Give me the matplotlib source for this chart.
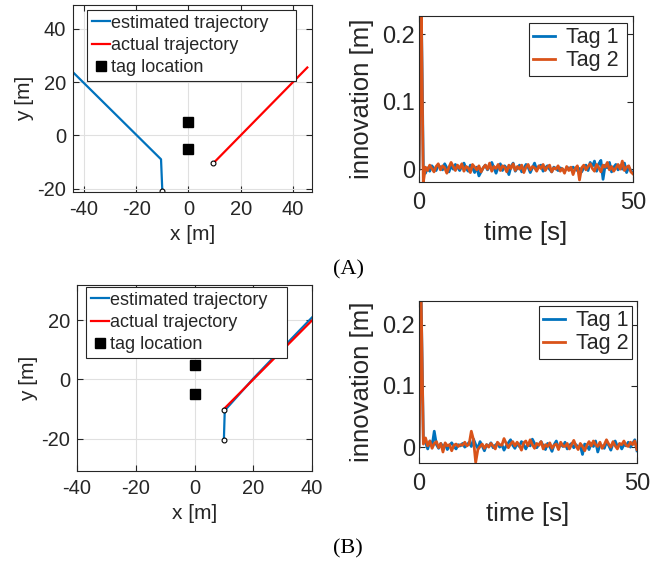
import numpy as np
import matplotlib
matplotlib.use("Agg")
import matplotlib.pyplot as plt

plt.rcParams["font.family"] = ["Liberation Sans", "DejaVu Sans"]
plt.rcParams["axes.unicode_minus"] = False

W, H = 668, 563
BLUE = "#0072BD"
ORANGE = "#D95319"
RED = "#FF0000"
AX_GRAY = "#262626"

# tag positions (shared by both scenarios)
TAG_X = [0, 0]
TAG_Y = [5, -5]

# scenario A trajectories
A_EST_X = [-45.0, -10.5, -10.0]
A_EST_Y = [24.5, -9.0, -21.0]
A_ACT_X = [9.5, 45.5]
A_ACT_Y = [-10.5, 25.5]
A_START_X = [-10.0, 9.5]
A_START_Y = [-21.0, -10.5]

# scenario B trajectories
B_EST_X = [10.0, 10.3, 20.0, 30.0, 40.0]
B_EST_Y = [-20.5, -10.5, 0.3, 10.7, 21.0]
B_ACT_X = [10.0, 40.0]
B_ACT_Y = [-10.0, 20.0]
B_START_X = [10.0, 10.0]
B_START_Y = [-20.5, -10.5]

# innovation sequences [m]
A_TAG1 = [0.000, 0.260, 0.004, -0.006, 0.002, -0.003, 0.005, 0.001, -0.002, 0.006,
          0.003, -0.001, 0.008, 0.002, -0.004, 0.005, 0.000, 0.007, 0.003, -0.002,
          0.004, 0.009, 0.001, -0.003, 0.006, 0.002, -0.005, 0.003, -0.010, -0.004,
          0.002, 0.006, -0.001, 0.004, 0.010, 0.002, -0.006, 0.003, 0.008, -0.002,
          0.005, 0.001, -0.008, 0.004, 0.009, -0.003, 0.002, 0.006, -0.004, 0.001,
          0.007, 0.003, -0.005, 0.002, 0.009, -0.001, 0.004, 0.006, -0.003, 0.002,
          0.005, 0.000, -0.004, 0.003, 0.001, -0.002, 0.002, 0.000, -0.003, 0.001,
          0.002, -0.001, 0.003, 0.000, -0.002, 0.001, -0.004, 0.002, 0.006, -0.002,
          0.010, 0.004, 0.012, -0.003, 0.008, 0.013, -0.015, 0.006, 0.002, 0.010,
          -0.004, 0.003, 0.007, -0.001, 0.005, 0.000, 0.009, -0.005, 0.003, -0.002,
          -0.006]
A_TAG2 = [0.000, 0.260, -0.020, 0.003, -0.002, 0.006, 0.001, -0.004, 0.004, 0.008,
          -0.001, 0.005, 0.002, -0.006, 0.003, 0.010, 0.004, -0.002, 0.006, 0.001,
          0.008, -0.003, 0.004, 0.002, -0.005, 0.007, 0.003, -0.001, 0.005, -0.004,
          0.002, 0.006, 0.000, 0.009, -0.003, 0.004, 0.001, 0.007, -0.002, 0.005,
          0.003, -0.004, 0.006, 0.001, 0.008, -0.002, 0.004, 0.000, 0.006, -0.005,
          0.003, 0.007, -0.001, 0.004, 0.002, -0.003, 0.005, 0.001, 0.007, -0.002,
          0.003, 0.006, -0.004, 0.002, 0.000, 0.005, -0.003, 0.001, -0.006, 0.004,
          -0.002, 0.003, -0.008, 0.001, 0.005, -0.016, 0.002, 0.006, -0.001, 0.004,
          0.008, 0.001, -0.003, 0.007, 0.002, -0.004, 0.006, 0.003, 0.010, -0.001,
          0.004, -0.003, 0.002, 0.007, 0.000, 0.012, -0.002, 0.003, 0.005, -0.004,
          -0.007]
B_TAG1 = [0.000, 0.240, 0.012, 0.008, -0.003, 0.010, 0.002, 0.026, 0.004, -0.002,
          0.006, 0.000, 0.005, -0.004, 0.003, 0.007, 0.001, -0.003, 0.004, 0.002,
          0.006, 0.000, 0.003, 0.008, 0.001, 0.013, 0.004, -0.002, 0.009, 0.002,
          -0.006, 0.004, 0.001, 0.007, -0.001, 0.003, 0.006, 0.000, 0.004, -0.005,
          0.002, 0.007, 0.012, 0.003, -0.002, 0.006, 0.001, 0.009, 0.004, -0.003,
          0.005, 0.002, 0.013, 0.006, -0.001, 0.004, 0.009, 0.002, -0.004, 0.006,
          0.001, -0.007, 0.004, 0.010, -0.002, 0.005, 0.001, 0.008, -0.003, 0.003,
          0.006, -0.001, 0.004, 0.000, 0.002, -0.012, 0.005, 0.003, -0.004, 0.006,
          0.001, 0.010, -0.008, 0.004, 0.002, -0.002, 0.008, 0.003, -0.005, 0.006,
          0.010, 0.001, 0.005, -0.003, 0.004, 0.002, 0.008, 0.000, 0.006, 0.012,
          -0.006]
B_TAG2 = [0.000, 0.240, 0.005, 0.015, 0.002, 0.010, -0.002, 0.006, 0.009, -0.001,
          0.006, -0.008, 0.007, 0.002, 0.004, -0.006, 0.003, 0.005, 0.001, 0.004,
          0.003, 0.008, 0.002, 0.005, 0.026, 0.012, -0.025, -0.004, 0.001, 0.005,
          -0.002, 0.004, 0.000, 0.006, 0.002, -0.003, 0.008, 0.004, 0.003, 0.014,
          0.006, -0.001, 0.005, 0.009, 0.002, 0.008, 0.003, -0.005, 0.007, 0.010,
          0.002, 0.012, 0.004, -0.002, 0.006, 0.003, 0.009, -0.003, 0.004, 0.001,
          0.007, -0.002, 0.003, 0.005, -0.004, 0.008, 0.002, 0.001, 0.006, -0.003,
          0.004, 0.011, 0.002, -0.004, 0.006, 0.001, -0.006, 0.003, 0.009, 0.002,
          0.010, 0.004, 0.001, 0.008, -0.002, 0.004, 0.012, 0.005, 0.000, 0.009,
          0.002, -0.003, 0.006, 0.004, 0.010, 0.003, 0.001, 0.008, 0.004, 0.010,
          -0.004]


def px_axes(fig, left, top, right, bottom):
    return fig.add_axes([left / W, 1 - bottom / H, (right - left) / W, (bottom - top) / H])


def px_box(left, top, right, bottom):
    return (left / W, 1 - bottom / H, (right - left) / W, (bottom - top) / H)


def style_axes(ax, size, xpad, ypad):
    for s in ax.spines.values():
        s.set_color(AX_GRAY)
        s.set_linewidth(0.8)
    ax.tick_params(direction="in", top=True, right=True, colors=AX_GRAY,
                   labelcolor=AX_GRAY, labelsize=size, length=4, width=0.8)
    ax.tick_params(axis="x", pad=xpad)
    ax.tick_params(axis="y", pad=ypad)


def style_legend(leg):
    leg.get_frame().set_linewidth(0.8)
    for t in leg.get_texts():
        t.set_color(AX_GRAY)


def traj_panel(ax, est_x, est_y, act_x, act_y, sx, sy, xlim, ylim, xticks, yticks, leg_box):
    ax.plot(est_x, est_y, color=BLUE, lw=1.6, label="estimated trajectory")
    ax.plot(act_x, act_y, color=RED, lw=1.6, label="actual trajectory")
    ax.plot(TAG_X, TAG_Y, "s", color="black", ms=7, label="tag location")
    ax.plot(sx, sy, "o", mfc="white", mec="black", ms=3.5, mew=0.8)
    ax.set_xlim(*xlim)
    ax.set_ylim(*ylim)
    ax.set_xticks(xticks)
    ax.set_yticks(yticks)
    ax.grid(True, color="#e0e0e0", lw=0.8)
    ax.set_axisbelow(True)
    style_axes(ax, 14.5, 6, 5)
    ax.set_xlabel("x [m]", fontsize=15, color=AX_GRAY, labelpad=4)
    ax.set_ylabel("y [m]", fontsize=15, color=AX_GRAY, labelpad=2)
    leg = ax.legend(loc="upper left", bbox_to_anchor=leg_box, mode="expand",
                    bbox_transform=ax.figure.transFigure, fontsize=13,
                    handlelength=1.0, handletextpad=0.1, borderpad=0.25,
                    labelspacing=0.3, borderaxespad=0, fancybox=False,
                    framealpha=1, edgecolor=AX_GRAY)
    style_legend(leg)


def innov_panel(ax, tag1, tag2, ylim, leg_box):
    t1 = np.linspace(0, 50, len(tag1))
    t2 = np.linspace(0, 50, len(tag2))
    ax.plot(t1, tag1, color=BLUE, lw=2.0, label="Tag 1")
    ax.plot(t2, tag2, color=ORANGE, lw=2.0, label="Tag 2")
    ax.set_xlim(0, 50)
    ax.set_ylim(*ylim)
    ax.set_xticks([0, 50])
    ax.set_yticks([0, 0.1, 0.2])
    ax.set_yticklabels(["0", "0.1", "0.2"])
    style_axes(ax, 17, 7, 3)
    ax.set_xlabel("time [s]", fontsize=18.5, color=AX_GRAY, labelpad=5)
    ax.set_ylabel("innovation [m]", fontsize=18.5, color=AX_GRAY, labelpad=6)
    leg = ax.legend(loc="upper left", bbox_to_anchor=leg_box, mode="expand",
                    bbox_transform=ax.figure.transFigure, fontsize=15.5,
                    handlelength=1.0, handletextpad=0.5, borderpad=0.2,
                    labelspacing=0.1, borderaxespad=0, fancybox=False,
                    framealpha=1, edgecolor=AX_GRAY)
    style_legend(leg)


fig = plt.figure(figsize=(W / 100, H / 100), dpi=100)

ax1 = px_axes(fig, 73, 5, 312, 192)
traj_panel(ax1, A_EST_X, A_EST_Y, A_ACT_X, A_ACT_Y, A_START_X, A_START_Y,
           (-44.2, 47.3), (-21.3, 49), [-40, -20, 0, 20, 40], [-20, 0, 20, 40],
           px_box(87, 10, 296, 76))

ax2 = px_axes(fig, 419, 16, 633, 182)
innov_panel(ax2, A_TAG1, A_TAG2, (-0.019, 0.227), px_box(529, 23, 627, 75))

ax3 = px_axes(fig, 77, 285, 312, 471)
traj_panel(ax3, B_EST_X, B_EST_Y, B_ACT_X, B_ACT_Y, B_START_X, B_START_Y,
           (-40, 40), (-31, 32), [-40, -20, 0, 20, 40], [-20, 0, 20],
           px_box(86, 287, 287, 351))

ax4 = px_axes(fig, 419, 301, 637, 463)
innov_panel(ax4, B_TAG1, B_TAG2, (-0.026, 0.239), px_box(539, 306, 632, 356))

fig.text(349 / W, 1 - 270 / H, "(A)", ha="center", va="center",
         fontsize=16, family="Liberation Serif", color="black")
fig.text(348 / W, 1 - 549 / H, "(B)", ha="center", va="center",
         fontsize=16, family="Liberation Serif", color="black")

fig.savefig("out.png", dpi=100)
